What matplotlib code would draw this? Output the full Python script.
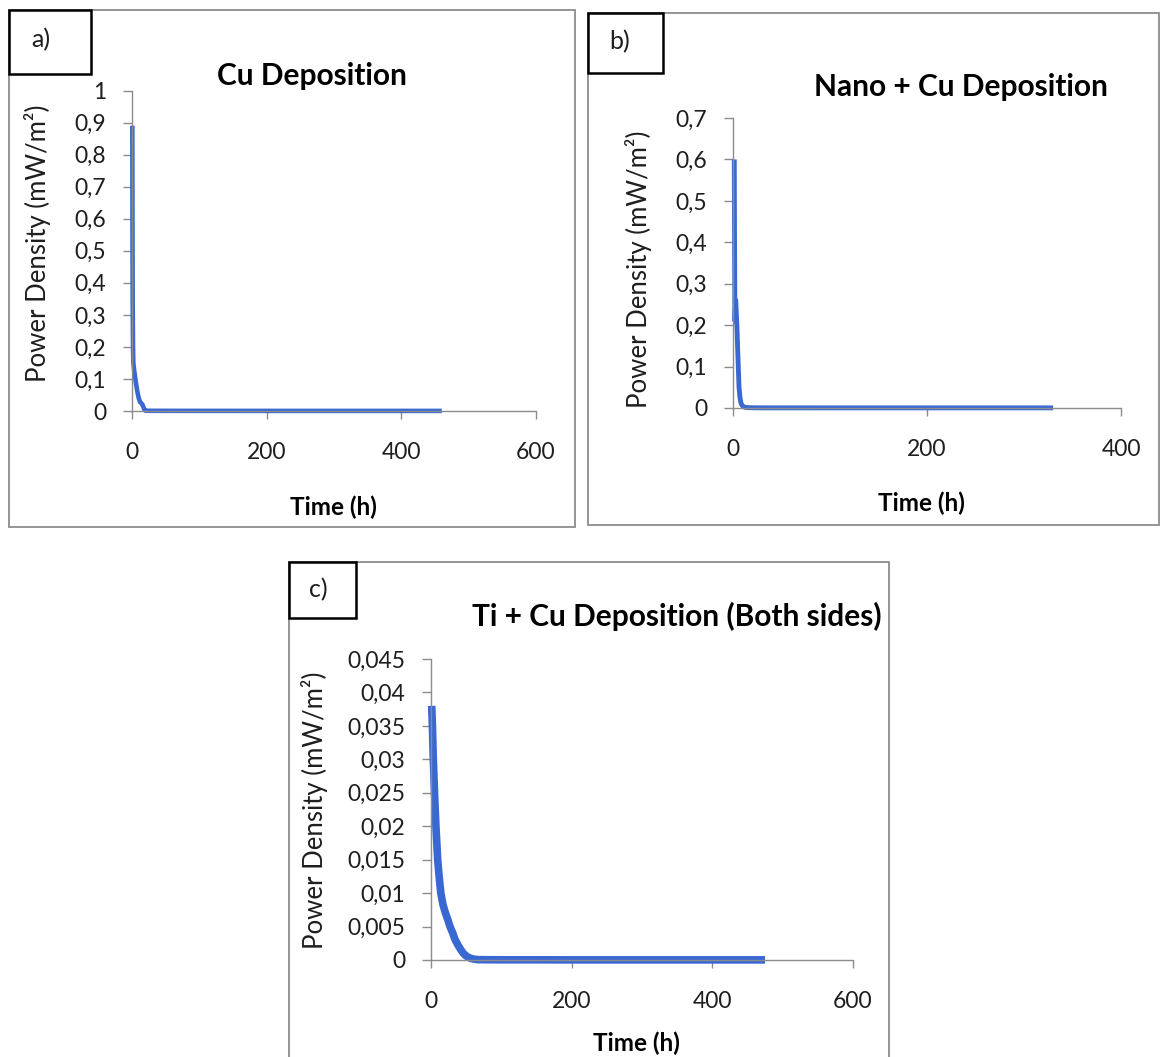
import matplotlib
matplotlib.use("Agg")
import matplotlib.pyplot as plt
from matplotlib.patches import Rectangle

# ---------------- data ----------------
a_time = [0.5, 0.7, 1.0, 1.5, 2.0, 3.0, 4.0, 5.0, 6.0, 8.0, 10.0, 12.0, 14.0, 15.5, 17.0, 18.5, 20.0, 22.0,
          30, 50, 100, 200, 300, 400, 460]
a_power = [0.89, 0.60, 0.35, 0.20, 0.15, 0.13, 0.115, 0.10, 0.085, 0.06, 0.04, 0.028, 0.024, 0.020, 0.012,
           0.004, 0.001, 0.0008, 0.0006, 0.0005, 0.0004, 0.0003, 0.0003, 0.0003, 0.0003]

b_time = [1.3, 1.6, 2.0, 2.4, 2.8, 4.0, 5.0, 6.2, 7.2, 8.2, 9.5, 11.0, 12.5, 15.0, 20, 30, 100, 200, 330]
b_power = [0.60, 0.40, 0.21, 0.24, 0.26, 0.20, 0.13, 0.05, 0.025, 0.012, 0.006, 0.003, 0.0015, 0.001,
           0.0006, 0.0004, 0.0003, 0.0003, 0.0003]

c_time = [1, 2, 3.3, 5, 7, 9.5, 12, 14, 17, 20, 24, 27, 31, 34, 38, 42, 46, 50, 55, 60, 67, 80, 100,
          150, 200, 300, 400, 475]
c_power = [0.038, 0.035, 0.030, 0.025, 0.020, 0.015, 0.012, 0.010, 0.0083, 0.0072, 0.0060, 0.0050,
           0.0040, 0.0031, 0.0023, 0.0016, 0.0010, 0.0006, 0.0003, 0.00015, 0.00005, 0.00004, 0.00003,
           0.00003, 0.00002, 0.00002, 0.00002, 0.00002]

a_yticks = [0, 0.1, 0.2, 0.3, 0.4, 0.5, 0.6, 0.7, 0.8, 0.9, 1.0]
a_ylabels = ['0', '0,1', '0,2', '0,3', '0,4', '0,5', '0,6', '0,7', '0,8', '0,9', '1']
a_xticks = [0, 200, 400, 600]

b_yticks = [0, 0.1, 0.2, 0.3, 0.4, 0.5, 0.6, 0.7]
b_ylabels = ['0', '0,1', '0,2', '0,3', '0,4', '0,5', '0,6', '0,7']
b_xticks = [0, 200, 400]

c_yticks = [0, 0.005, 0.01, 0.015, 0.02, 0.025, 0.03, 0.035, 0.04, 0.045]
c_ylabels = ['0', '0,005', '0,01', '0,015', '0,02', '0,025', '0,03', '0,035', '0,04', '0,045']
c_xticks = [0, 200, 400, 600]

titles = ['Cu Deposition', 'Nano + Cu Deposition', 'Ti + Cu Deposition (Both sides)']
panel_labels = ['a)', 'b)', 'c)']
ylabel_text = 'Power Density (mW/m²)'
xlabel_text = 'Time (h)'

# ---------------- layout ----------------
W, H = 1161, 1057
plt.rcParams['font.family'] = ['Lato', 'DejaVu Sans']
fig = plt.figure(figsize=(W / 100, H / 100), dpi=100)
fig.patch.set_facecolor('white')

LINE = '#3A68D2'
AX = '#8C8C8C'
TXT = '#1E1E1E'

TICK_FS = 16.5
TITLE_FS = 21.5
XLAB_FS = 17.5
YLAB_FS = 18.5
PLAB_FS = 18


def fx(x):
    return x / W


def fy(y):
    return 1 - y / H


def frame(x0, y0, x1, y1, color, lw, z, fill=False):
    r = Rectangle((fx(x0), fy(y1)), fx(x1) - fx(x0), fy(y0) - fy(y1), transform=fig.transFigure,
                  facecolor='white' if fill else 'none', edgecolor=color, lw=lw, zorder=z)
    fig.add_artist(r)


def make_axes(box, xlim, ylim, xticks, yticks, ylabels, t, p, lw):
    l, t0, r, b = box
    ax = fig.add_axes([fx(l), fy(b), fx(r) - fx(l), fy(t0) - fy(b)])
    ax.set_facecolor('none')
    ax.plot(t, p, color=LINE, lw=lw, solid_capstyle='butt', solid_joinstyle='round', clip_on=False)
    ax.set_xlim(*xlim)
    ax.set_ylim(*ylim)
    ax.set_xticks(xticks)
    ax.set_xticklabels([str(v) for v in xticks])
    ax.set_yticks(yticks)
    ax.set_yticklabels(ylabels)
    for s in ['top', 'right']:
        ax.spines[s].set_visible(False)
    for s in ['left', 'bottom']:
        ax.spines[s].set_color(AX)
        ax.spines[s].set_linewidth(1.0)
    ax.tick_params(axis='x', direction='out', length=6, width=1.0, color=AX, pad=16,
                   labelsize=TICK_FS, labelcolor=TXT)
    ax.tick_params(axis='y', direction='out', length=6.5, width=1.0, color=AX, pad=12,
                   labelsize=TICK_FS, labelcolor=TXT)
    return ax


# frames
frame(9, 10, 575, 527, AX, 1.3, 1)
frame(588, 13, 1159, 525, AX, 1.3, 1)
frame(289, 562, 889, 1070, AX, 1.3, 1)

ax_a = make_axes((132, 90.5, 536, 411), (0, 600), (0, 1), a_xticks, a_yticks, a_ylabels, a_time, a_power, 3.3)
ax_b = make_axes((733, 118, 1121, 408), (0, 400), (0, 0.7), b_xticks, b_yticks, b_ylabels, b_time, b_power, 3.5)
ax_c = make_axes((431, 659, 853, 960), (0, 600), (0, 0.045), c_xticks, c_yticks, c_ylabels, c_time, c_power, 5.5)

# label boxes
frame(9, 10, 91, 74, 'black', 1.8, 5, fill=True)
frame(588, 13, 663, 73, 'black', 1.8, 5, fill=True)
frame(289, 562, 356, 618, 'black', 1.8, 5, fill=True)
fig.text(fx(41), fy(40), panel_labels[0], fontsize=PLAB_FS, ha='center', va='center', zorder=6, color=TXT)
fig.text(fx(620), fy(42), panel_labels[1], fontsize=PLAB_FS, ha='center', va='center', zorder=6, color=TXT)
fig.text(fx(318), fy(590), panel_labels[2], fontsize=PLAB_FS, ha='center', va='center', zorder=6, color=TXT)

# titles
fig.text(fx(312), fy(85), titles[0], fontsize=TITLE_FS, fontweight='bold', ha='center', va='baseline')
fig.text(fx(961), fy(96), titles[1], fontsize=TITLE_FS, fontweight='bold', ha='center', va='baseline')
fig.text(fx(677), fy(626), titles[2], fontsize=TITLE_FS, fontweight='bold', ha='center', va='baseline')

# x labels
fig.text(fx(333), fy(507), xlabel_text, fontsize=XLAB_FS, fontweight='bold', ha='center', va='center')
fig.text(fx(921), fy(503), xlabel_text, fontsize=XLAB_FS, fontweight='bold', ha='center', va='center')
fig.text(fx(636), fy(1043), xlabel_text, fontsize=XLAB_FS, fontweight='bold', ha='center', va='center')

# y labels
fig.text(fx(38), fy(243), ylabel_text, fontsize=YLAB_FS, rotation=90, ha='center', va='center', color=TXT)
fig.text(fx(639), fy(269), ylabel_text, fontsize=YLAB_FS, rotation=90, ha='center', va='center', color=TXT)
fig.text(fx(315), fy(810), ylabel_text, fontsize=YLAB_FS, rotation=90, ha='center', va='center', color=TXT)

fig.savefig('out.png', dpi=100, facecolor='white')
